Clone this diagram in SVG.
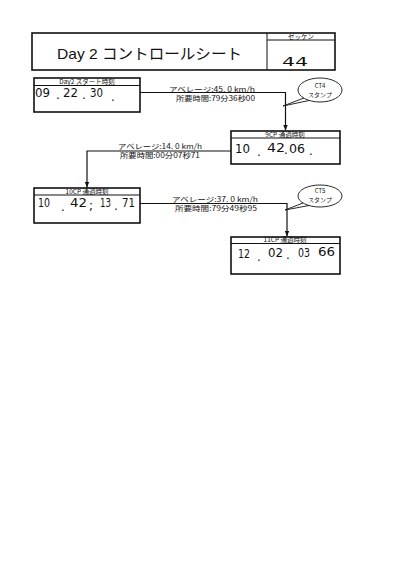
<svg xmlns="http://www.w3.org/2000/svg" width="415" height="588" viewBox="0 0 415 588">
<defs>
<style>
.box{fill:#fff;stroke:#111;stroke-width:1.6}
.thin{fill:none;stroke:#111;stroke-width:1}
.hdr{font-family:"Noto Sans CJK JP","Liberation Sans",sans-serif;font-size:6.5px;fill:#111;text-anchor:middle}
.hand{font-family:"DejaVu Sans","Liberation Sans",sans-serif;font-size:12px;fill:#111}
.lbl{font-family:"Noto Sans CJK JP","Liberation Sans",sans-serif;font-size:7px;fill:#111}
.bub{font-family:"Noto Sans CJK JP","Liberation Sans",sans-serif;font-size:6px;fill:#111;text-anchor:middle}
.conn{fill:none;stroke:#111;stroke-width:1.2}
</style>
<marker id="arr" viewBox="0 0 10 10" refX="10" refY="5" markerWidth="5" markerHeight="5" orient="auto">
<path d="M0,1 L10,5 L0,9 z" fill="#111"/>
</marker>
</defs>
<rect width="415" height="588" fill="#fff"/>

<g id="title">
<rect class="box" x="32" y="33" width="303" height="37" stroke-width="2"/>
<line class="thin" x1="267" y1="33" x2="267" y2="70" stroke-width="1.6"/>
<line class="thin" x1="267" y1="40" x2="335" y2="40"/>
<text class="hdr" x="301" y="38.5" font-size="6">ゼッケン</text>
<text x="57" y="59" font-family="'Liberation Sans','Noto Sans CJK JP',sans-serif" font-size="15" fill="#111" textLength="185" lengthAdjust="spacingAndGlyphs">Day 2 コントロールシート</text>
<text class="hand" x="282" y="66" font-size="19" textLength="26" lengthAdjust="spacingAndGlyphs">44</text>
</g>

<g id="start">
<rect class="box" x="34" y="78" width="106" height="34"/>
<line class="thin" x1="34" y1="85.5" x2="140" y2="85.5"/>
<text class="hdr" x="87" y="84">Day2 スタート時刻</text>
<text class="hand" x="35" y="97" textLength="15" lengthAdjust="spacingAndGlyphs">09</text>
<text class="hand" x="56" y="99">.</text>
<text class="hand" x="63" y="97" textLength="15" lengthAdjust="spacingAndGlyphs">22</text>
<text class="hand" x="82" y="99">.</text>
<text class="hand" x="90" y="97" textLength="13" lengthAdjust="spacingAndGlyphs">30</text>
<text class="hand" x="111" y="101">.</text>
</g>

<g id="cp9">
<rect class="box" x="231" y="131" width="109" height="33"/>
<line class="thin" x1="231" y1="138" x2="340" y2="138"/>
<text class="hdr" x="285" y="136.5">9CP 通過時刻</text>
<text class="hand" x="235" y="153" font-size="13" textLength="15" lengthAdjust="spacingAndGlyphs">10</text>
<text class="hand" x="257" y="156">.</text>
<text class="hand" x="267" y="152" font-size="13" textLength="18" lengthAdjust="spacingAndGlyphs">42</text>
<text class="hand" x="284" y="154">.</text>
<text class="hand" x="289" y="153" font-size="13" textLength="16" lengthAdjust="spacingAndGlyphs">06</text>
<text class="hand" x="309" y="155">.</text>
</g>

<g id="cp10">
<rect class="box" x="34" y="188" width="106" height="35"/>
<line class="thin" x1="34" y1="195" x2="140" y2="195"/>
<text class="hdr" x="87" y="193.5">10CP 通過時刻</text>
<text class="hand" x="38" y="207" textLength="12" lengthAdjust="spacingAndGlyphs">10</text>
<text class="hand" x="61" y="211">.</text>
<text class="hand" x="70" y="207" textLength="17" lengthAdjust="spacingAndGlyphs">42</text>
<text class="hand" x="89" y="210">;</text>
<text class="hand" x="100" y="207" textLength="11" lengthAdjust="spacingAndGlyphs">13</text>
<text class="hand" x="114" y="210">.</text>
<text class="hand" x="122" y="207" textLength="13" lengthAdjust="spacingAndGlyphs">71</text>
</g>

<g id="cp11">
<rect class="box" x="231" y="237" width="109" height="37"/>
<line class="thin" x1="231" y1="243.5" x2="340" y2="243.5"/>
<text class="hdr" x="285" y="242">11CP 通過時刻</text>
<text class="hand" x="238" y="258" textLength="12" lengthAdjust="spacingAndGlyphs">12</text>
<text class="hand" x="257" y="261">.</text>
<text class="hand" x="268" y="257" textLength="15" lengthAdjust="spacingAndGlyphs">02</text>
<text class="hand" x="286" y="259">.</text>
<text class="hand" x="298" y="257" textLength="12" lengthAdjust="spacingAndGlyphs">03</text>
<text class="hand" x="318" y="256" textLength="17" lengthAdjust="spacingAndGlyphs">66</text>
</g>

<g id="ct4">
<path d="M304,98 L283,106 L309,100.5" fill="#fff" stroke="#111" stroke-width="0.9"/>
<ellipse cx="320" cy="90" rx="22" ry="12" fill="#fff" stroke="#111" stroke-width="0.9"/>
<text class="bub" x="320" y="88">CT4</text>
<text class="bub" x="320" y="97">スタンプ</text>
</g>

<g id="ct5">
<path d="M303,203 L285,210 L309,205.5" fill="#fff" stroke="#111" stroke-width="0.9"/>
<ellipse cx="320" cy="196" rx="22" ry="11" fill="#fff" stroke="#111" stroke-width="0.9"/>
<text class="bub" x="320" y="193">CT5</text>
<text class="bub" x="320" y="202">スタンプ</text>
</g>

<g id="connectors">
<path class="conn" d="M140,92.5 H285.5 V130.5" marker-end="url(#arr)"/>
<path class="conn" d="M231,151 H87 V187.5" marker-end="url(#arr)"/>
<path class="conn" d="M140,203.5 H287 V236.5" marker-end="url(#arr)"/>
</g>

<g id="labels">
<text class="lbl" x="169" y="91.5" textLength="86" lengthAdjust="spacingAndGlyphs">アベレージ:45. 0 km/h</text>
<text class="lbl" x="176" y="100.5" textLength="79" lengthAdjust="spacingAndGlyphs">所要時間:79分36秒00</text>
<text class="lbl" x="118" y="149" textLength="84" lengthAdjust="spacingAndGlyphs">アベレージ:14. 0 km/h</text>
<text class="lbl" x="120" y="157.5" textLength="80" lengthAdjust="spacingAndGlyphs">所要時間:00分07秒71</text>
<text class="lbl" x="172" y="202" textLength="86" lengthAdjust="spacingAndGlyphs">アベレージ:37. 0 km/h</text>
<text class="lbl" x="175" y="210.5" textLength="82" lengthAdjust="spacingAndGlyphs">所要時間:79分49秒95</text>
</g>
</svg>
